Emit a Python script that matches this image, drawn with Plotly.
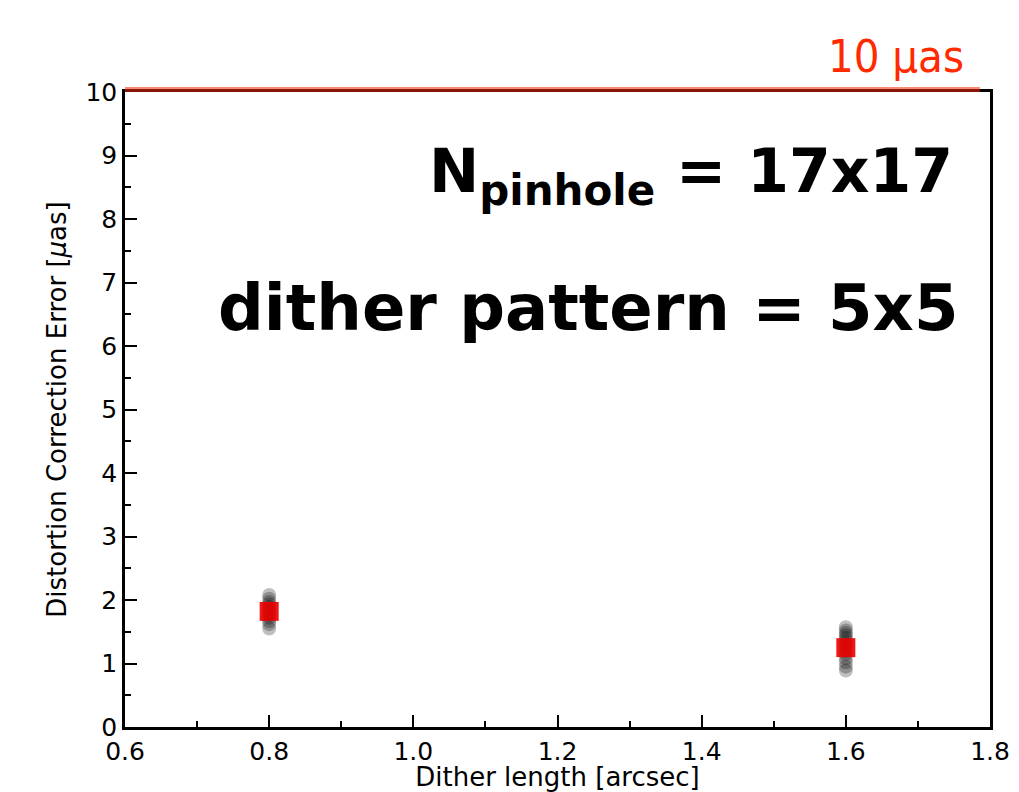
import plotly.graph_objects as go

# Data
dither_lengths = [0.8, 1.6]
trials_08 = [2.08, 2.02, 1.97, 1.93, 1.89, 1.85, 1.80, 1.76, 1.72, 1.67, 1.62, 1.55]
trials_16 = [1.57, 1.52, 1.48, 1.44, 1.40, 1.35, 1.30, 1.25, 1.20, 1.15, 1.08, 1.02, 0.95, 0.89]
mean_errors = [1.82, 1.25]
req_level = 10
req_line_x = [0.6, 1.786]
req_label = "10 μas"
x_ticks = [0.6, 0.8, 1.0, 1.2, 1.4, 1.6, 1.8]
y_ticks = list(range(0, 11))
x_range = [0.6, 1.8]
y_range = [0, 10]

FONT = "DejaVu Sans"
L, R, T, B = 125, 29, 92, 65
W, H = 1019, 792
PW, PH = W - L - R, H - T - B

fig = go.Figure()

fig.add_trace(go.Scatter(
    x=[dither_lengths[0]] * len(trials_08) + [dither_lengths[1]] * len(trials_16),
    y=trials_08 + trials_16,
    mode="markers",
    marker=dict(symbol="circle", size=14, color="rgba(0,0,0,0.25)", line=dict(width=0)),
    showlegend=False, hoverinfo="skip"))

fig.add_trace(go.Scatter(
    x=dither_lengths, y=mean_errors, mode="markers",
    marker=dict(symbol="square", size=19, color="rgba(235,0,0,0.9)", line=dict(width=0)),
    showlegend=False))

# requirement line (converted from data values to axis-domain fractions so it is not clipped)
def xd(v):
    return (v - x_range[0]) / (x_range[1] - x_range[0])

def yd(v):
    return (v - y_range[0]) / (y_range[1] - y_range[0])

fig.add_shape(type="line", xref="x domain", yref="y domain",
              x0=xd(req_line_x[0]), x1=xd(req_line_x[1]),
              y0=yd(req_level) + 2.5 / PH, y1=yd(req_level) + 2.5 / PH,
              line=dict(color="rgba(245,40,10,0.55)", width=5), layer="above")

fig.add_annotation(x=1.752, y=8.69, xref="x", yref="y", xanchor="right", yanchor="middle",
                   text="<b>N<sub>pinhole</sub> = 17x17</b>", showarrow=False,
                   font=dict(family=FONT, size=60, color="black"))
fig.add_annotation(x=1.758, y=6.6, xref="x", yref="y", xanchor="right", yanchor="middle",
                   text="<b>dither pattern = 5x5</b>", showarrow=False,
                   font=dict(family=FONT, size=64, color="black"))
fig.add_annotation(x=(966 - L) / PW, y=1 + (T - 56) / PH, xref="paper", yref="paper",
                   xanchor="right", yanchor="middle", showarrow=False,
                   text=req_label, font=dict(family="DejaVu Sans Condensed, DejaVu Sans", size=45, color="#ff2a00"))

axis_common = dict(ticks="inside", ticklen=12, tickwidth=1.5, tickcolor="black",
                   showline=True, linecolor="black", linewidth=2.5, mirror=True,
                   showgrid=False, zeroline=False, automargin=False, layer="below traces",
                   tickfont=dict(size=25))

fig.update_layout(
    width=W, height=H,
    margin=dict(l=L, r=R, t=T, b=B),
    plot_bgcolor="white", paper_bgcolor="white",
    font=dict(family=FONT, size=25, color="black"),
    xaxis=dict(range=x_range, tickvals=x_ticks, ticktext=[f"{v:.1f}" for v in x_ticks],
               minor=dict(ticks="inside", ticklen=6, dtick=0.1, tickcolor="black", tickwidth=1.5, showgrid=False),
               title=dict(text="Dither length [arcsec]", font=dict(size=26), standoff=2),
               **axis_common),
    yaxis=dict(range=y_range, tickvals=y_ticks,
               minor=dict(ticks="inside", ticklen=6, dtick=0.5, tickcolor="black", tickwidth=1.5, showgrid=False),
               title=dict(text="Distortion Correction Error [<i>μ</i>as]", font=dict(size=26), standoff=12),
               **axis_common),
)

fig.write_html("out.html")
